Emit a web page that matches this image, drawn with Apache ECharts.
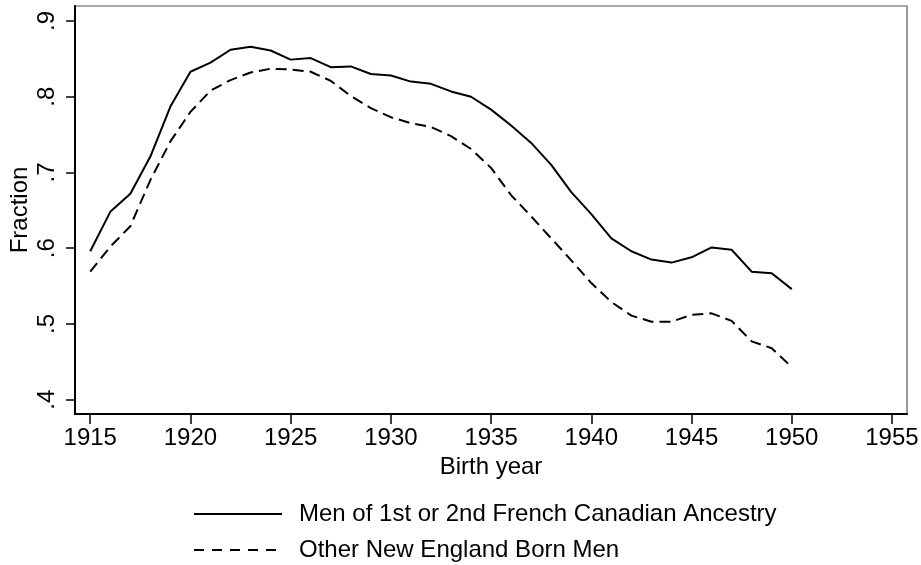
<!DOCTYPE html>
<html>
<head>
<meta charset="utf-8">
<script src="https://cdn.jsdelivr.net/npm/echarts@6/dist/echarts.min.js"></script>
<style>
html,body{margin:0;padding:0;background:#fff;}
#chart{width:921px;height:565px;}
</style>
</head>
<body>
<div id="chart"></div>
<script>
const years = [1915,1916,1917,1918,1919,1920,1921,1922,1923,1924,1925,1926,1927,1928,1929,1930,1931,1932,1933,1934,1935,1936,1937,1938,1939,1940,1941,1942,1943,1944,1945,1946,1947,1948,1949,1950];
const frenchCanadian = [0.596,0.648,0.672,0.721,0.787,0.833,0.845,0.862,0.866,0.861,0.849,0.851,0.839,0.840,0.830,0.828,0.820,0.817,0.807,0.800,0.783,0.762,0.739,0.710,0.674,0.645,0.613,0.596,0.585,0.581,0.588,0.601,0.598,0.569,0.567,0.546];
const otherNewEngland = [0.569,0.602,0.629,0.690,0.741,0.780,0.808,0.822,0.832,0.837,0.836,0.833,0.821,0.801,0.785,0.773,0.765,0.760,0.748,0.731,0.706,0.670,0.642,0.613,0.584,0.554,0.529,0.511,0.503,0.503,0.512,0.514,0.504,0.477,0.468,0.443];
const seriesNames = ['Men of 1st or 2nd French Canadian Ancestry','Other New England Born Men'];
const xTickValues = [1915,1920,1925,1930,1935,1940,1945,1950,1955];
const yTickValues = [0.4,0.5,0.6,0.7,0.8,0.9];
const yTickLabels = ['.4','.5','.6','.7','.8','.9'];

const FONT = '"Liberation Sans", Arial, Helvetica, sans-serif';
const FS = 24;
const chart = echarts.init(document.getElementById('chart'), null, {renderer:'canvas'});
chart.setOption({
  animation:false,
  backgroundColor:'#fff',
  textStyle:{fontFamily:FONT},
  grid:{left:75,right:14,top:6,bottom:151,show:true,borderColor:'#555',borderWidth:1.2,containLabel:false,outerBoundsMode:'none'},
  legend:{
    orient:'vertical',left:193,top:502,height:70,padding:0,
    itemWidth:88,itemHeight:24,itemGap:12,
    itemStyle:{opacity:0},
    textStyle:{fontSize:FS,color:'#000',fontFamily:FONT,padding:[0,0,0,12]},
    data:[
      {name:seriesNames[0]},
      {name:seriesNames[1],lineStyle:{type:[10,8]}}
    ]
  },
  xAxis:{
    type:'value',min:1914.24,max:1955.75,
    name:'Birth year',nameLocation:'middle',nameGap:41,nameMoveOverlap:false,
    nameTextStyle:{fontSize:FS,color:'#000',fontFamily:FONT},
    axisLine:{onZero:false,lineStyle:{color:'#000',width:2}},
    axisTick:{show:true,length:10,lineStyle:{color:'#000',width:1.5},customValues:xTickValues},
    axisLabel:{color:'#000',fontSize:FS,margin:12,fontFamily:FONT,customValues:xTickValues,formatter:v=>String(v)},
    splitLine:{show:false}
  },
  yAxis:{
    type:'value',min:0.3811,max:0.9198,
    name:'Fraction',nameLocation:'middle',nameGap:43,nameRotate:90,nameMoveOverlap:false,
    nameTextStyle:{fontSize:FS,color:'#000',fontFamily:FONT},
    axisLine:{onZero:false,lineStyle:{color:'#000',width:2}},
    axisTick:{show:true,length:9,lineStyle:{color:'#000',width:1.5},customValues:yTickValues},
    axisLabel:{color:'#000',fontSize:FS,margin:16,rotate:90,fontFamily:FONT,customValues:yTickValues,
      formatter:v=>{const i=yTickValues.findIndex(t=>Math.abs(t-v)<1e-6);return i>=0?yTickLabels[i]:'';}},
    splitLine:{show:false}
  },
  series:[
    {name:seriesNames[0],type:'line',symbol:'none',
     data:years.map((y,i)=>[y,frenchCanadian[i]]),
     lineStyle:{color:'#000',width:2,type:'solid'},itemStyle:{color:'#000'}},
    {name:seriesNames[1],type:'line',symbol:'none',
     data:years.map((y,i)=>[y,otherNewEngland[i]]),
     lineStyle:{color:'#000',width:2,type:[11,6]},itemStyle:{color:'#000'}}
  ]
});
</script>
</body>
</html>
